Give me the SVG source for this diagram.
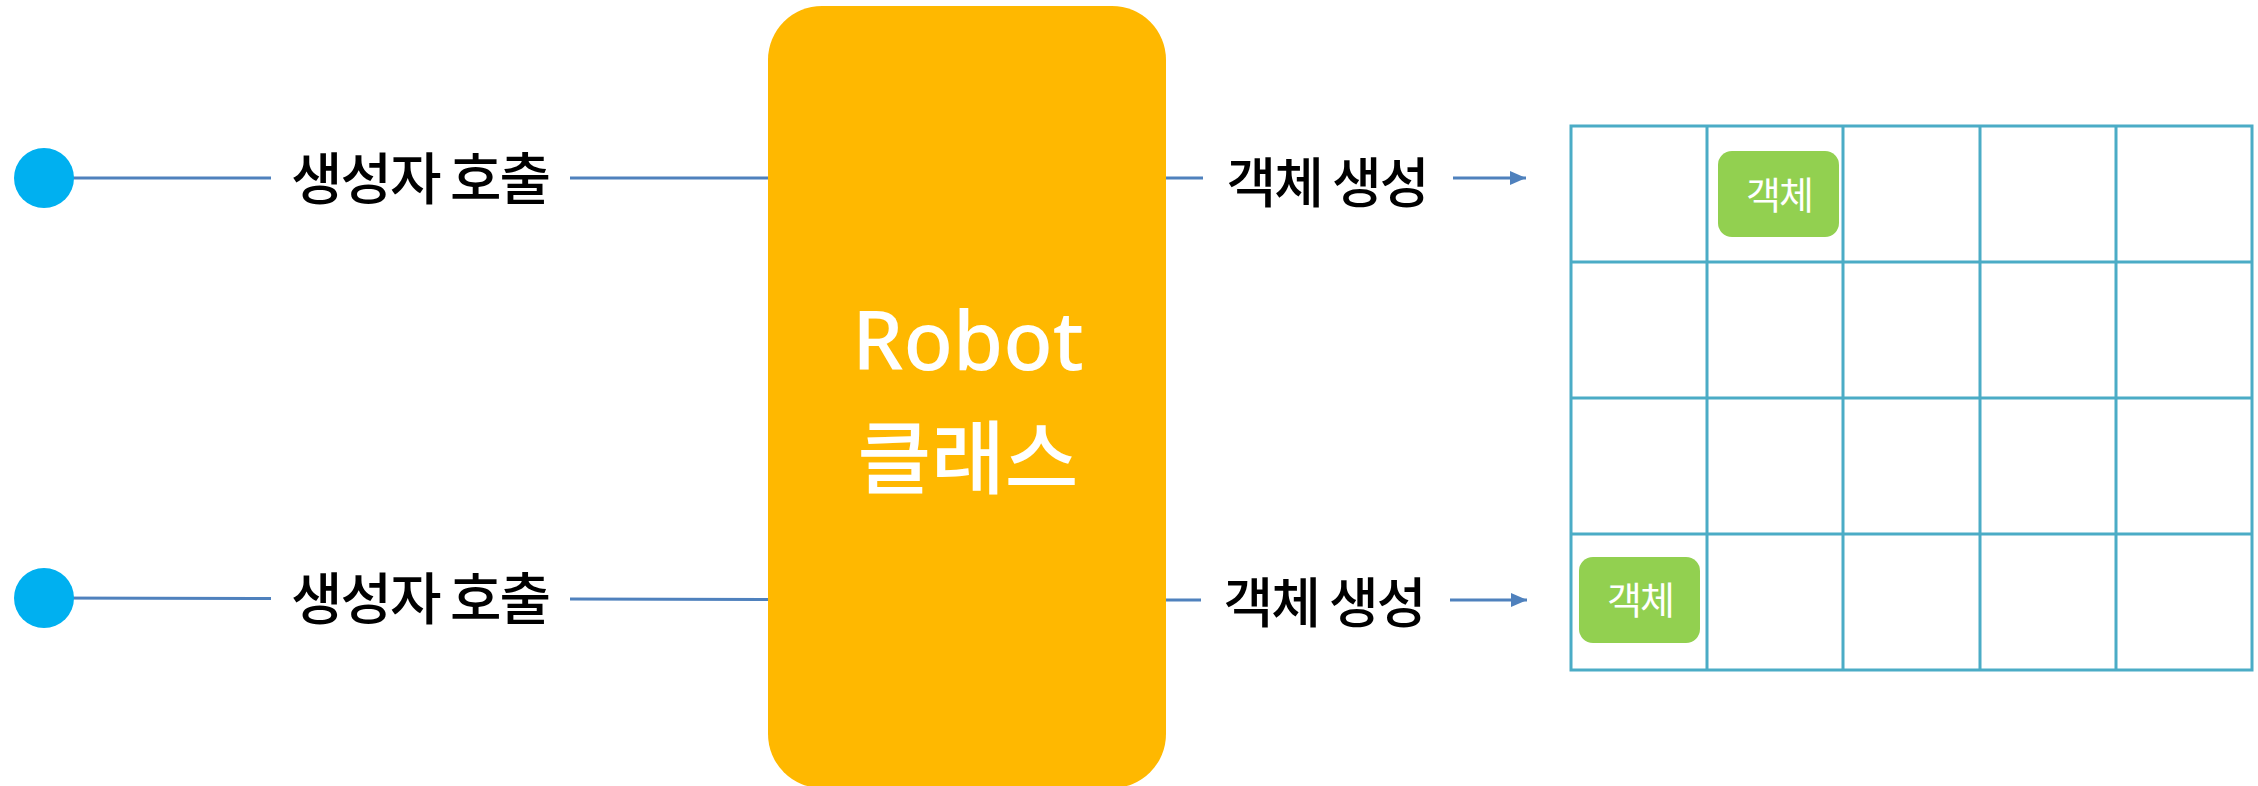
<svg xmlns="http://www.w3.org/2000/svg" width="2258" height="786" viewBox="0 0 2258 786">
  <style>
    .conn { stroke: #4F81BD; stroke-width: 3; fill: none; }
    .lbl { font-family: "Noto Sans CJK KR", "Noto Sans", sans-serif; font-weight: 500; fill: #000; text-anchor: middle; letter-spacing: -2px; }
    .start { fill: #00B0F0; }
    .cls { fill: #FFB800; }
    .clsText { font-family: "Noto Sans", "Noto Sans CJK KR", sans-serif; font-weight: 500; fill: #FFFFFF; text-anchor: middle; font-size: 81px; }
    .clsKo { font-family: "Noto Sans CJK KR", sans-serif; font-weight: 500; fill: #FFFFFF; text-anchor: middle; font-size: 80px; }
    .grid { stroke: #4BACC6; stroke-width: 3; fill: none; }
    .obj { fill: #92D050; }
    .objText { font-family: "Noto Sans CJK KR", sans-serif; font-size: 38px; fill: #FFFFFF; text-anchor: middle; letter-spacing: -2px; }
  </style>
  <defs>
    <marker id="arrow" markerUnits="userSpaceOnUse" markerWidth="18" markerHeight="16" refX="16" refY="7" orient="auto">
      <path d="M0,0 L16,7 L0,14 Z" fill="#4F81BD"/>
    </marker>
  </defs>

  <rect width="2258" height="786" fill="#FFFFFF"/>

  <g id="connectors">
    <line class="conn" x1="44" y1="178" x2="271" y2="178"/>
    <line class="conn" x1="570" y1="178" x2="770" y2="178"/>
    <line class="conn" x1="44" y1="598" x2="271" y2="598.5"/>
    <line class="conn" x1="570" y1="599" x2="770" y2="599.5"/>
    <line class="conn" x1="1164" y1="178" x2="1203" y2="178"/>
    <line class="conn" x1="1453" y1="178" x2="1526" y2="178" marker-end="url(#arrow)"/>
    <line class="conn" x1="1164" y1="600" x2="1201" y2="600"/>
    <line class="conn" x1="1450" y1="600" x2="1527" y2="600" marker-end="url(#arrow)"/>
    <text class="lbl" x="420" y="199" font-size="56">생성자 호출</text>
    <text class="lbl" x="420" y="619" font-size="56">생성자 호출</text>
    <text class="lbl" x="1327" y="203" font-size="54">객체 생성</text>
    <text class="lbl" x="1324" y="623" font-size="54">객체 생성</text>
  </g>

  <g id="start1">
    <circle class="start" cx="44" cy="178" r="30"/>
  </g>
  <g id="start2">
    <circle class="start" cx="44" cy="598" r="30"/>
  </g>

  <g id="robot-class">
    <rect class="cls" x="768" y="6" width="398" height="782" rx="54" ry="54"/>
    <text class="clsText" x="968" y="370">Robot</text>
    <text class="clsKo" x="968" y="487">클래스</text>
  </g>

  <g id="grid">
    <rect class="grid" x="1571" y="126" width="681" height="544"/>
    <line class="grid" x1="1707" y1="126" x2="1707" y2="670"/>
    <line class="grid" x1="1843" y1="126" x2="1843" y2="670"/>
    <line class="grid" x1="1980" y1="126" x2="1980" y2="670"/>
    <line class="grid" x1="2116" y1="126" x2="2116" y2="670"/>
    <line class="grid" x1="1571" y1="262" x2="2252" y2="262"/>
    <line class="grid" x1="1571" y1="398" x2="2252" y2="398"/>
    <line class="grid" x1="1571" y1="534" x2="2252" y2="534"/>
  </g>

  <g id="object1">
    <rect class="obj" x="1718" y="151" width="121" height="86" rx="14" ry="14"/>
    <text class="objText" x="1779" y="209">객체</text>
  </g>
  <g id="object2">
    <rect class="obj" x="1579" y="557" width="121" height="86" rx="14" ry="14"/>
    <text class="objText" x="1640" y="614">객체</text>
  </g>
</svg>
